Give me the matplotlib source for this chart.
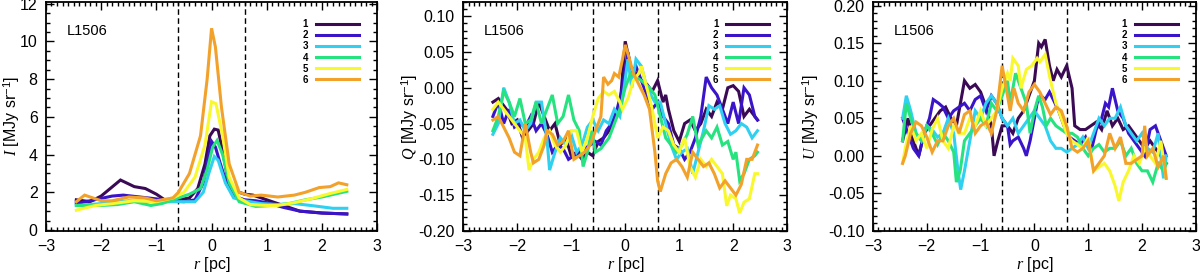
import matplotlib
matplotlib.use("Agg")
import matplotlib.pyplot as plt
from matplotlib.lines import Line2D
from matplotlib.ticker import MultipleLocator, FormatStrFormatter

plt.rcParams['font.family'] = ['Liberation Sans', 'DejaVu Sans']
plt.rcParams['mathtext.fontset'] = 'custom'
plt.rcParams['mathtext.it'] = 'Liberation Serif:italic'
plt.rcParams['mathtext.rm'] = 'Liberation Sans'

labels = ['1', '2', '3', '4', '5', '6']
colors = ['#3b0a55', '#3a14c8', '#2fd0f0', '#26e37f', '#f8f82c', '#f2a12a']
r_cut = [-0.6, 0.6]

# ---- I profiles (smooth) ----
I_x = [
    [-2.45, -2.2, -2.0, -1.65, -1.4, -1.2, -1.0, -0.85, -0.6, -0.4, -0.25, -0.12, -0.03, 0.05, 0.12, 0.2, 0.3, 0.4, 0.6, 0.75, 1.0, 1.3, 1.6, 2.0, 2.45],
    [-2.45, -2.2, -1.8, -1.6, -1.3, -1.0, -0.8, -0.5, -0.3, -0.15, -0.05, 0.0, 0.07, 0.15, 0.28, 0.4, 0.6, 0.8, 1.0, 1.3, 1.6, 2.0, 2.45],
    [-2.45, -2.0, -1.5, -1.0, -0.7, -0.3, -0.15, -0.05, 0.05, 0.12, 0.25, 0.4, 0.6, 0.9, 1.2, 1.5, 1.8, 2.2, 2.45],
    [-2.45, -2.0, -1.7, -1.4, -1.1, -0.9, -0.6, -0.4, -0.2, -0.08, 0.02, 0.1, 0.2, 0.32, 0.5, 0.8, 1.1, 1.4, 1.7, 2.0, 2.45],
    [-2.45, -2.1, -1.8, -1.4, -1.0, -0.7, -0.5, -0.3, -0.12, 0.0, 0.08, 0.2, 0.32, 0.5, 0.7, 1.0, 1.2, 1.5, 1.8, 2.1, 2.45],
    [-2.45, -2.3, -2.0, -1.8, -1.5, -1.2, -1.0, -0.7, -0.6, -0.4, -0.2, -0.08, 0.0, 0.07, 0.18, 0.32, 0.5, 0.7, 0.9, 1.2, 1.5, 1.7, 1.95, 2.15, 2.3, 2.45],
]
I_y = [
    [1.6, 1.5, 1.8, 2.65, 2.3, 2.2, 1.9, 1.6, 1.6, 1.7, 2.2, 3.5, 5.0, 5.35, 5.3, 4.2, 2.6, 2.1, 1.9, 1.85, 1.6, 1.3, 1.0, 0.9, 0.85],
    [1.4, 1.55, 1.8, 1.85, 1.75, 1.65, 1.55, 1.5, 1.6, 2.5, 4.0, 4.7, 4.4, 3.6, 2.4, 1.8, 1.6, 1.55, 1.45, 1.2, 1.0, 0.9, 0.85],
    [1.3, 1.4, 1.55, 1.5, 1.5, 1.5, 2.0, 3.0, 3.9, 3.7, 2.5, 1.7, 1.55, 1.4, 1.35, 1.4, 1.3, 1.15, 1.15],
    [1.3, 1.3, 1.35, 1.5, 1.3, 1.4, 1.7, 1.9, 2.2, 3.2, 4.4, 4.75, 4.0, 2.5, 1.5, 1.25, 1.3, 1.4, 1.6, 1.75, 2.05],
    [1.05, 1.3, 1.4, 1.55, 1.5, 1.7, 2.0, 2.8, 4.5, 6.8, 6.7, 5.0, 2.8, 1.7, 1.35, 1.3, 1.3, 1.45, 1.65, 1.9, 2.15],
    [1.5, 1.85, 1.55, 1.55, 1.75, 1.7, 1.55, 1.7, 2.0, 3.0, 5.0, 8.0, 10.7, 9.7, 6.5, 3.5, 2.0, 1.8, 1.85, 1.75, 1.85, 2.0, 2.25, 2.3, 2.5, 2.4],
]

# ---- Q profiles ----
Q_x = [
    [-2.45, -2.35, -2.2, -2.1, -2.0, -1.9, -1.8, -1.7, -1.6, -1.5, -1.4, -1.3, -1.2, -1.1, -1.0, -0.9, -0.8, -0.7, -0.6, -0.5, -0.4, -0.3, -0.2, -0.1, 0.0, 0.1, 0.2, 0.3, 0.4, 0.5, 0.6, 0.7, 0.75, 0.8, 0.9, 1.0, 1.1, 1.2, 1.3, 1.4, 1.5, 1.6, 1.7, 1.8, 1.9, 2.0, 2.1, 2.2, 2.3, 2.4, 2.45],
    [-2.45, -2.35, -2.25, -2.15, -2.05, -1.95, -1.85, -1.75, -1.65, -1.55, -1.45, -1.35, -1.25, -1.15, -1.05, -0.95, -0.85, -0.75, -0.65, -0.55, -0.45, -0.35, -0.25, -0.15, -0.05, 0.05, 0.12, 0.2, 0.3, 0.4, 0.5, 0.6, 0.7, 0.8, 0.9, 1.0, 1.1, 1.2, 1.3, 1.4, 1.5, 1.6, 1.7, 1.8, 1.9, 2.0, 2.1, 2.2, 2.3, 2.4, 2.45],
    [-2.45, -2.35, -2.25, -2.15, -2.05, -1.95, -1.85, -1.75, -1.65, -1.55, -1.45, -1.4, -1.3, -1.2, -1.1, -1.0, -0.9, -0.8, -0.7, -0.6, -0.5, -0.4, -0.3, -0.2, -0.1, -0.02, 0.05, 0.12, 0.2, 0.3, 0.4, 0.55, 0.65, 0.75, 0.85, 0.95, 1.05, 1.15, 1.25, 1.35, 1.45, 1.55, 1.65, 1.75, 1.85, 1.95, 2.05, 2.15, 2.25, 2.35, 2.45],
    [-2.45, -2.35, -2.25, -2.15, -2.05, -1.95, -1.85, -1.75, -1.65, -1.55, -1.45, -1.35, -1.25, -1.15, -1.05, -0.95, -0.85, -0.78, -0.7, -0.62, -0.55, -0.45, -0.3, -0.2, -0.1, 0.0, 0.1, 0.2, 0.3, 0.45, 0.55, 0.65, 0.75, 0.85, 0.95, 1.05, 1.15, 1.25, 1.35, 1.5, 1.6, 1.7, 1.8, 1.9, 2.0, 2.05, 2.12, 2.2, 2.3, 2.4, 2.45],
    [-2.45, -2.35, -2.25, -2.15, -2.05, -1.95, -1.85, -1.78, -1.7, -1.6, -1.5, -1.4, -1.3, -1.2, -1.1, -1.0, -0.9, -0.8, -0.7, -0.6, -0.5, -0.4, -0.3, -0.2, -0.1, -0.05, 0.05, 0.15, 0.25, 0.3, 0.4, 0.5, 0.6, 0.7, 0.8, 0.9, 1.0, 1.1, 1.2, 1.3, 1.4, 1.5, 1.6, 1.7, 1.8, 1.88, 1.95, 2.05, 2.12, 2.2, 2.3, 2.4, 2.45],
    [-2.45, -2.35, -2.25, -2.15, -2.05, -1.95, -1.85, -1.75, -1.7, -1.6, -1.5, -1.45, -1.35, -1.25, -1.15, -1.05, -0.95, -0.85, -0.75, -0.65, -0.55, -0.45, -0.4, -0.32, -0.25, -0.2, -0.12, -0.05, 0.0, 0.08, 0.15, 0.25, 0.35, 0.45, 0.55, 0.6, 0.65, 0.75, 0.85, 0.95, 1.05, 1.15, 1.25, 1.35, 1.45, 1.55, 1.65, 1.75, 1.85, 1.95, 2.05, 2.15, 2.25, 2.35, 2.45],
]
Q_y = [
    [-0.02, -0.015, -0.03, -0.05, -0.045, -0.07, -0.06, -0.05, -0.02, -0.04, -0.06, -0.05, -0.08, -0.07, -0.095, -0.09, -0.1, -0.09, -0.095, -0.075, -0.07, -0.06, -0.045, -0.03, 0.065, 0.03, 0.02, 0.01, 0.005, -0.005, 0.01, -0.02, -0.01, -0.03, -0.06, -0.075, -0.05, -0.045, -0.06, -0.05, -0.03, -0.04, -0.02, -0.03, 0.0, 0.003, -0.005, -0.04, -0.03, -0.04, -0.045],
    [-0.04, -0.02, -0.05, -0.03, -0.055, -0.05, -0.055, -0.04, -0.06, -0.05, -0.065, -0.09, -0.08, -0.085, -0.1, -0.095, -0.09, -0.085, -0.08, -0.075, -0.08, -0.06, -0.05, -0.03, 0.0, 0.05, 0.02, 0.03, 0.01, -0.01, -0.03, -0.02, -0.04, -0.05, -0.08, -0.085, -0.1, -0.09, -0.07, -0.04, 0.015, 0.0, -0.01, -0.03, -0.05, -0.02, -0.05, 0.0, -0.01, -0.04, -0.045],
    [-0.065, -0.05, 0.0, -0.02, -0.05, -0.045, -0.06, -0.05, -0.02, -0.02, -0.07, -0.115, -0.09, -0.07, -0.08, -0.065, -0.09, -0.08, -0.055, -0.045, -0.06, -0.045, -0.05, -0.03, -0.04, 0.0, 0.04, 0.0, 0.04, 0.03, 0.0, -0.02, -0.02, -0.05, -0.08, -0.1, -0.09, -0.085, -0.12, -0.09, -0.06, -0.025, -0.03, -0.025, -0.05, -0.065, -0.06, -0.05, -0.055, -0.07, -0.06],
    [-0.06, -0.04, -0.005, -0.02, -0.04, -0.015, -0.05, -0.045, -0.02, -0.05, -0.03, -0.01, -0.05, -0.04, -0.01, -0.045, -0.06, -0.11, -0.09, -0.06, -0.09, -0.085, -0.07, -0.05, -0.03, 0.0, 0.02, 0.015, 0.01, 0.0, -0.01, -0.04, -0.07, -0.08, -0.09, -0.08, -0.065, -0.04, -0.08, -0.06, -0.07, -0.055, -0.08, -0.075, -0.1, -0.09, -0.13, -0.12, -0.1, -0.095, -0.09],
    [-0.03, -0.02, -0.03, -0.04, -0.05, -0.06, -0.07, -0.115, -0.1, -0.09, -0.07, -0.06, -0.08, -0.09, -0.08, -0.06, -0.06, -0.09, -0.07, -0.04, -0.015, -0.005, -0.01, -0.005, -0.02, -0.03, -0.015, 0.01, 0.02, 0.03, 0.0, -0.03, -0.07, -0.055, -0.06, -0.08, -0.09, -0.07, -0.11, -0.125, -0.1, -0.11, -0.1, -0.11, -0.12, -0.165, -0.15, -0.155, -0.175, -0.16, -0.155, -0.12, -0.12],
    [-0.045, -0.04, -0.055, -0.07, -0.09, -0.095, -0.05, -0.09, -0.105, -0.1, -0.08, -0.06, -0.065, -0.08, -0.075, -0.06, -0.1, -0.095, -0.09, -0.08, -0.06, -0.04, 0.015, 0.005, 0.01, 0.02, 0.015, 0.04, 0.06, 0.04, 0.02, 0.005, -0.01, -0.03, -0.09, -0.13, -0.145, -0.12, -0.105, -0.1, -0.11, -0.125, -0.09, -0.1, -0.11, -0.105, -0.12, -0.14, -0.13, -0.14, -0.15, -0.135, -0.1, -0.1, -0.08],
]

# ---- U profiles ----
U_x = [
    [-2.45, -2.35, -2.25, -2.15, -2.05, -1.95, -1.85, -1.75, -1.65, -1.55, -1.45, -1.35, -1.3, -1.2, -1.1, -1.0, -0.9, -0.8, -0.75, -0.68, -0.6, -0.5, -0.4, -0.3, -0.2, -0.1, 0.0, 0.08, 0.13, 0.2, 0.28, 0.35, 0.42, 0.5, 0.6, 0.7, 0.75, 0.85, 0.95, 1.05, 1.15, 1.25, 1.35, 1.45, 1.55, 1.65, 1.75, 1.85, 1.95, 2.05, 2.15, 2.25, 2.35, 2.45],
    [-2.45, -2.35, -2.25, -2.15, -2.05, -1.95, -1.88, -1.78, -1.7, -1.6, -1.5, -1.4, -1.3, -1.2, -1.1, -1.0, -0.9, -0.8, -0.7, -0.6, -0.5, -0.45, -0.4, -0.3, -0.2, -0.15, -0.08, 0.0, 0.05, 0.12, 0.2, 0.28, 0.35, 0.45, 0.55, 0.65, 0.75, 0.85, 0.95, 1.05, 1.15, 1.25, 1.32, 1.38, 1.45, 1.55, 1.65, 1.75, 1.85, 1.95, 2.05, 2.15, 2.25, 2.35, 2.45],
    [-2.45, -2.38, -2.3, -2.2, -2.1, -2.0, -1.9, -1.8, -1.7, -1.6, -1.5, -1.42, -1.37, -1.3, -1.2, -1.1, -1.0, -0.9, -0.8, -0.7, -0.6, -0.5, -0.4, -0.3, -0.2, -0.1, 0.0, 0.1, 0.2, 0.3, 0.4, 0.5, 0.6, 0.7, 0.8, 0.9, 1.0, 1.1, 1.2, 1.3, 1.4, 1.5, 1.6, 1.7, 1.8, 1.9, 2.0, 2.1, 2.2, 2.3, 2.4, 2.45],
    [-2.45, -2.38, -2.3, -2.2, -2.1, -2.0, -1.9, -1.8, -1.7, -1.6, -1.5, -1.45, -1.38, -1.3, -1.2, -1.1, -1.0, -0.9, -0.8, -0.7, -0.6, -0.5, -0.45, -0.35, -0.25, -0.15, -0.08, 0.0, 0.08, 0.15, 0.22, 0.3, 0.4, 0.5, 0.6, 0.7, 0.8, 0.9, 1.0, 1.1, 1.2, 1.3, 1.4, 1.5, 1.6, 1.7, 1.8, 1.9, 2.0, 2.1, 2.2, 2.3, 2.4, 2.45],
    [-2.45, -2.4, -2.3, -2.2, -2.1, -2.0, -1.9, -1.8, -1.7, -1.6, -1.5, -1.4, -1.3, -1.2, -1.1, -1.0, -0.9, -0.8, -0.7, -0.6, -0.5, -0.45, -0.4, -0.3, -0.25, -0.15, -0.05, 0.05, 0.1, 0.2, 0.3, 0.4, 0.5, 0.6, 0.7, 0.8, 0.9, 1.0, 1.1, 1.2, 1.3, 1.4, 1.5, 1.57, 1.65, 1.75, 1.85, 1.95, 2.05, 2.15, 2.25, 2.35, 2.45],
    [-2.45, -2.4, -2.3, -2.2, -2.1, -2.0, -1.9, -1.8, -1.7, -1.6, -1.5, -1.4, -1.3, -1.2, -1.1, -1.0, -0.9, -0.8, -0.7, -0.6, -0.5, -0.45, -0.38, -0.3, -0.2, -0.1, 0.0, 0.1, 0.2, 0.3, 0.4, 0.5, 0.6, 0.7, 0.8, 0.9, 1.0, 1.1, 1.2, 1.3, 1.4, 1.5, 1.6, 1.7, 1.8, 1.9, 2.0, 2.05, 2.1, 2.2, 2.3, 2.4, 2.45],
]
U_y = [
    [0.02, 0.05, 0.02, 0.0, 0.03, 0.04, 0.05, 0.06, 0.065, 0.05, 0.04, 0.08, 0.1, 0.09, 0.095, 0.085, 0.065, 0.04, 0.0, 0.02, 0.04, 0.04, 0.03, 0.05, 0.06, 0.08, 0.1, 0.15, 0.145, 0.155, 0.12, 0.1, 0.115, 0.105, 0.12, 0.09, 0.04, 0.035, 0.035, 0.04, 0.045, 0.035, 0.06, 0.04, 0.05, 0.035, 0.04, 0.03, 0.02, 0.01, 0.02, 0.01, 0.0, -0.01],
    [0.05, 0.03, 0.01, 0.0, 0.03, 0.05, 0.075, 0.07, 0.065, 0.05, 0.06, 0.065, 0.07, 0.06, 0.075, 0.08, 0.06, 0.08, 0.07, 0.05, 0.04, 0.015, 0.02, 0.025, 0.01, 0.0, 0.02, 0.05, 0.07, 0.08, 0.075, 0.085, 0.075, 0.06, 0.04, 0.025, 0.02, 0.015, 0.025, 0.005, 0.035, 0.05, 0.07, 0.065, 0.09, 0.06, 0.05, 0.03, 0.02, 0.01, 0.0, 0.035, 0.04, 0.02, 0.0],
    [0.05, 0.08, 0.06, 0.03, 0.02, 0.04, 0.035, 0.025, 0.03, 0.05, 0.03, -0.02, -0.045, -0.02, 0.02, 0.06, 0.05, 0.07, 0.08, 0.07, 0.05, 0.04, 0.05, 0.03, 0.04, 0.05, 0.06, 0.05, 0.04, 0.02, 0.01, 0.01, 0.005, 0.01, 0.015, 0.025, 0.01, 0.03, 0.05, 0.04, 0.05, 0.05, 0.065, 0.04, 0.03, 0.02, 0.03, 0.01, 0.005, 0.03, -0.03, 0.0],
    [0.02, 0.07, 0.05, 0.03, 0.02, 0.04, 0.03, 0.015, 0.03, 0.02, 0.005, -0.035, -0.02, 0.02, 0.03, 0.04, 0.05, 0.04, 0.07, 0.06, 0.08, 0.1, 0.07, 0.11, 0.09, 0.07, 0.03, 0.06, 0.08, 0.065, 0.04, 0.05, 0.04, 0.035, 0.03, 0.03, 0.025, 0.01, 0.0, 0.01, 0.015, 0.005, 0.01, 0.01, 0.02, 0.0, 0.01, -0.01, -0.02, -0.02, -0.035, -0.01, -0.02, -0.01],
    [-0.01, 0.01, 0.04, 0.02, 0.03, 0.01, 0.035, 0.05, 0.02, 0.01, 0.04, 0.03, 0.03, 0.05, 0.04, 0.06, 0.04, 0.05, 0.06, 0.09, 0.11, 0.1, 0.13, 0.12, 0.09, 0.115, 0.12, 0.13, 0.125, 0.135, 0.1, 0.07, 0.05, 0.03, 0.02, 0.015, 0.01, 0.025, -0.02, -0.015, -0.01, -0.02, -0.04, -0.06, -0.035, -0.02, 0.0, -0.01, 0.01, 0.0, -0.01, 0.02, -0.03],
    [-0.01, 0.0, 0.03, 0.045, 0.04, 0.025, 0.005, 0.02, 0.02, 0.04, 0.05, 0.03, 0.055, 0.06, 0.03, 0.04, 0.045, 0.03, 0.06, 0.12, 0.08, 0.06, 0.09, 0.07, 0.06, 0.085, 0.095, 0.085, 0.07, 0.055, 0.065, 0.06, 0.04, 0.01, 0.005, 0.01, 0.02, -0.02, -0.01, 0.0, 0.03, 0.01, 0.025, -0.01, -0.01, -0.005, 0.0, 0.04, 0.0, 0.01, -0.015, 0.0, -0.03],
]

fig = plt.figure(figsize=(12, 2.72), dpi=100)

panels = [
    (I_x, I_y, [0.0383, 0.151, 0.276, 0.842], (-0.05, 12.1), 2, 0.5, '%d', r'$I$ [MJy sr$^{-1}$]', -0.105),
    (Q_x, Q_y, [0.386, 0.151, 0.270, 0.842], (-0.2, 0.12), 0.05, 0.01, '%.2f', r'$Q$ [MJy sr$^{-1}$]', -0.165),
    (U_x, U_y, [0.7275, 0.151, 0.269, 0.842], (-0.1, 0.205), 0.05, 0.01, '%.2f', r'$U$ [MJy sr$^{-1}$]', -0.193),
]

for xs, ys, pos, ylim, maj, mnr, fmt, ylab, ylab_x in panels:
    ax = fig.add_axes(pos)
    for xx, yy, c in zip(xs, ys, colors):
        ax.plot(xx, yy, color=c, lw=2.2, solid_joinstyle='miter')
    for rc in r_cut:
        ax.axvline(rc, color='k', lw=1.0, ls=(0, (4, 2.5)), zorder=1)
    ax.set_xlim(-3, 3)
    ax.set_ylim(*ylim)
    ax.xaxis.set_major_locator(MultipleLocator(1))
    ax.xaxis.set_minor_locator(MultipleLocator(0.1))
    ax.yaxis.set_major_locator(MultipleLocator(maj))
    ax.yaxis.set_minor_locator(MultipleLocator(mnr))
    ax.yaxis.set_major_formatter(FormatStrFormatter(fmt))
    ax.tick_params(which='both', direction='in', top=True, right=True, labelsize=11.5, width=1.0)
    ax.tick_params(which='major', length=6, pad=6)
    ax.tick_params(which='minor', length=3)
    for sp in ax.spines.values():
        sp.set_linewidth(1.3)
    ax.set_xlabel(r'$r$ [pc]', fontsize=11.5)
    ax.xaxis.set_label_coords(0.5, -0.145)
    ax.xaxis.label.set_va('center')
    ax.set_ylabel(ylab, fontsize=11.5)
    ax.yaxis.set_label_coords(ylab_x, 0.5)
    ax.yaxis.label.set_va('center')
    ax.text(0.063, 0.875, 'L1506', transform=ax.transAxes, fontsize=10.5, va='center')
    handles = [Line2D([], [], color=c, lw=2.2) for c in colors]
    ax.legend(handles, labels, loc='upper right', bbox_to_anchor=(0.965, 0.955),
              markerfirst=False, frameon=False, prop={'size': 7, 'weight': 'bold'},
              handlelength=4.4, handletextpad=0.8, labelspacing=0.12, borderpad=0.2)

fig.savefig('out.png', dpi=100)
